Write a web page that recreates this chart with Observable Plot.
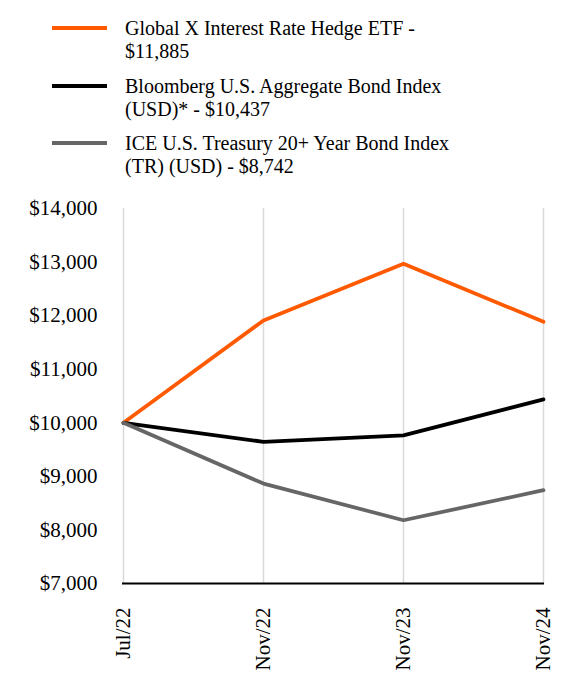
<!DOCTYPE html>
<html>
<head>
<meta charset="utf-8">
<script src="https://cdn.jsdelivr.net/npm/d3@7"></script>
<script src="https://cdn.jsdelivr.net/npm/@observablehq/plot@0.6"></script>
<style>
  html, body { margin: 0; padding: 0; background: #fff; }
  body { width: 564px; height: 696px; overflow: hidden; font-family: 'Liberation Serif', 'Times New Roman', serif; }
  #legend { position: absolute; left: 0; top: 0; width: 564px; }
  .item { position: absolute; left: 52px; width: 500px; }
  .swatch { position: absolute; left: 0; width: 55px; height: 4px; }
  .label { position: absolute; left: 73px; font-family: 'Liberation Serif', serif; font-size: 20px; line-height: 22.5px; color: #000; white-space: nowrap; }
  #chart { position: absolute; left: 0; top: 190px; }
  #chart svg text { font-family: 'Liberation Serif', serif; }
</style>
</head>
<body>
<div id="legend"></div>
<div id="chart"></div>
<script>
const dates = ["Jul/22", "Nov/22", "Nov/23", "Nov/24"];
const seriesNames = [
  "Global X Interest Rate Hedge ETF",
  "Bloomberg U.S. Aggregate Bond Index (USD)*",
  "ICE U.S. Treasury 20+ Year Bond Index (TR) (USD)"
];
const legendLines = [
  ["Global X Interest Rate Hedge ETF -", "$11,885"],
  ["Bloomberg U.S. Aggregate Bond Index", "(USD)* - $10,437"],
  ["ICE U.S. Treasury 20+ Year Bond Index", "(TR) (USD) - $8,742"]
];
const colors = ["#FF5A00", "#000000", "#666666"];
const etfValues = [10000, 11910, 12968, 11885];
const aggValues = [10000, 9645, 9765, 10437];
const treasuryValues = [10000, 8865, 8180, 8742];
const yTicks = [7000, 8000, 9000, 10000, 11000, 12000, 13000, 14000];

const allValues = [etfValues, aggValues, treasuryValues];
const rows = [];
seriesNames.forEach((s, i) => dates.forEach((d, j) => rows.push({series: s, date: d, value: allValues[i][j]})));

// Legend
const legend = document.getElementById("legend");
const tops = [17, 75, 132];
legendLines.forEach((lines, i) => {
  const item = document.createElement("div");
  item.className = "item";
  item.style.top = tops[i] + "px";
  const sw = document.createElement("div");
  sw.className = "swatch";
  sw.style.top = "9px";
  sw.style.background = colors[i];
  const lab = document.createElement("div");
  lab.className = "label";
  lab.style.top = "0px";
  lab.innerHTML = lines.join("<br>");
  item.appendChild(sw);
  item.appendChild(lab);
  legend.appendChild(item);
});

const chart = Plot.plot({
  width: 564,
  height: 500,
  marginTop: 18,
  marginBottom: 107,
  marginLeft: 122,
  marginRight: 20,
  style: {fontFamily: "'Liberation Serif', serif", fontSize: "21px", color: "#000", background: "#fff"},
  x: {type: "point", domain: dates, padding: 0, label: null},
  y: {domain: [7000, 14000], label: null},
  color: {domain: seriesNames, range: colors},
  marks: [
    Plot.ruleX(dates, {stroke: "#d9d9d9", strokeWidth: 1.5}),
    Plot.axisY({ticks: yTicks, tickSize: 0, tickPadding: 25, tickFormat: d3.format("$,"), fontSize: 21, label: null}),
    Plot.axisX({tickSize: 0, tickPadding: 24, tickRotate: -90, fontSize: 21, label: null}),
    Plot.line(rows, {x: "date", y: "value", z: "series", stroke: "series", strokeWidth: 3.75, strokeLinejoin: "miter"}),
    Plot.ruleY([7000], {stroke: "#000", strokeWidth: 2})
  ]
});
document.getElementById("chart").appendChild(chart);
</script>
</body>
</html>
